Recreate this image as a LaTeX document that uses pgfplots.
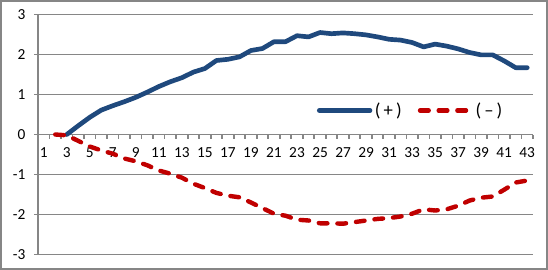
\documentclass[border=0pt]{standalone}
\usepackage{pgfplots}
\pgfplotsset{compat=1.18}
\usepackage{fontspec}
\setmainfont{Carlito}
\definecolor{bl}{RGB}{31,73,125}
\definecolor{rd}{RGB}{192,0,0}
\definecolor{gr}{RGB}{134,134,134}
\begin{document}
\begin{tikzpicture}
\useasboundingbox (-28.5pt,-11.25pt) rectangle (382.5pt,190.875pt);
\draw[gr, line width=1.5pt] (-27.75pt,-10.5pt) rectangle (381.75pt,190.125pt);
\begin{axis}[
  at={(0pt,0pt)}, anchor=south west,
  width=371.25pt, height=180pt, scale only axis,
  xmin=0.5, xmax=43.5, ymin=-3, ymax=3,
  axis x line=middle, axis y line=left,
  axis line style={gr, line width=1.3pt, -},
  hide obscured x ticks=false, hide obscured y ticks=false,
  xtick={1,3,5,7,9,11,13,15,17,19,21,23,25,27,29,31,33,35,37,39,41,43},
  xticklabels={1,3,5,7,9,11,13,15,17,19,21,23,25,27,29,31,33,35,37,39,41,43},
  ytick={-3,-2,-1,0,1,2,3},
  yticklabels={-3,-2,-1,0,1,2,3},
  ymajorgrids, grid style={gr, line width=1.3pt},
  tick style={gr, line width=1.3pt},
  tick align=outside, major tick length=3pt, minor tick length=3pt,
  major x tick style={draw=none},
  minor xtick={0.5,1.5,...,43.5},
  ticklabel style={font=\fontsize{11.5}{13}\selectfont, text=black},
  xticklabel style={yshift=-3.5pt},
  yticklabel style={xshift=-3pt},
  legend style={draw=none, fill=none, at={(0.555,0.6)}, anchor=west,
    font=\fontsize{14}{16}\selectfont},
  legend columns=2,
  /tikz/every even column/.append style={column sep=10pt},
  legend image code/.code={\draw[#1, line cap=round] (0pt,0pt) -- (38pt,0pt);},
]
\addplot[bl, line width=3.5pt, line join=round, line cap=round] coordinates {
(3,0) (4,0.22) (5,0.43) (6,0.61) (7,0.72) (8,0.82) (9,0.93) (10,1.06) (11,1.2) (12,1.32)
(13,1.42) (14,1.56) (15,1.65) (16,1.85) (17,1.88) (18,1.94) (19,2.1) (20,2.15) (21,2.32) (22,2.32)
(23,2.47) (24,2.44) (25,2.55) (26,2.52) (27,2.54) (28,2.52) (29,2.49) (30,2.44) (31,2.38) (32,2.36)
(33,2.3) (34,2.19) (35,2.26) (36,2.21) (37,2.14) (38,2.05) (39,1.99) (40,1.99) (41,1.84) (42,1.67) (43,1.67)
};
\addlegendentry{(\,+\,)}
\addplot[rd, line width=3.3pt, line join=round, line cap=round, dash pattern=on 6.5pt off 7.5pt] coordinates {
(2,0) (3,-0.02) (4,-0.16) (5,-0.3) (6,-0.4) (7,-0.48) (8,-0.6) (9,-0.67) (10,-0.77) (11,-0.9)
(12,-0.98) (13,-1.08) (14,-1.23) (15,-1.34) (16,-1.46) (17,-1.53) (18,-1.57) (19,-1.7) (20,-1.84) (21,-1.98)
(22,-2.03) (23,-2.13) (24,-2.15) (25,-2.22) (26,-2.22) (27,-2.23) (28,-2.19) (29,-2.15) (30,-2.11) (31,-2.09)
(32,-2.05) (33,-1.98) (34,-1.87) (35,-1.9) (36,-1.87) (37,-1.78) (38,-1.65) (39,-1.58) (40,-1.55) (41,-1.38)
(42,-1.2) (43,-1.15)
};
\addlegendentry{(\,–\,)}
\end{axis}
\end{tikzpicture}
\end{document}
